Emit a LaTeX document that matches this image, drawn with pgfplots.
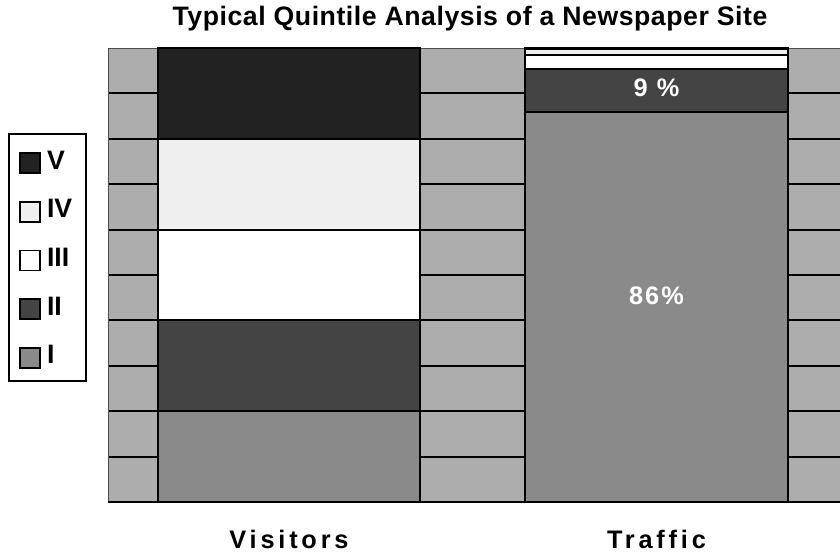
\documentclass[border=0pt]{standalone}
\usepackage{fontspec}
\setmainfont{Liberation Sans}
\usepackage{pgfplots}
\pgfplotsset{compat=1.18}
\definecolor{bgray}{HTML}{ADADAD}
\definecolor{qI}{HTML}{8A8A8A}
\definecolor{qII}{HTML}{444444}
\definecolor{qIII}{HTML}{FFFFFF}
\definecolor{qIV}{HTML}{EFEFEF}
\definecolor{qV}{HTML}{222222}
\begin{document}
\begin{tikzpicture}
\useasboundingbox (0,0) rectangle (630pt,416.25pt);
\fill[white] (0,0) rectangle (630pt,416.25pt);
\begin{axis}[
  at={(81pt,39.75pt)}, anchor=south west,
  scale only axis, width=549pt, height=340.5pt,
  ybar stacked, bar width=0.713,
  xmin=-0.4925, xmax=1.4993, ymin=0, ymax=100,
  axis background/.style={fill=bgray},
  axis line style={draw=gray!60!black, line width=0.6pt},
  ytick={10,20,...,90}, yticklabels={}, ymajorgrids,
  grid style={black, line width=1.4pt},
  ytick style={draw=none},
  xtick={0,1}, xticklabels={Visitors,Traffic},
  xtick style={draw=none},
  xticklabel style={font=\bfseries\fontsize{19}{19}\selectfont\addfontfeatures{LetterSpace=15}, anchor=base, yshift=-35.25pt},
  extra x ticks={-0.4925,1.4993}, extra x tick labels={},
  extra x tick style={tick pos=bottom, tick align=outside, major tick length=6pt, major tick style={black, line width=1.5pt, draw=black}},
  reverse legend,
  legend style={at={(-0.1366,0.812)}, anchor=north west, draw=black, line width=1.5pt,
    inner xsep=7.5pt, inner ysep=9pt, row sep=15.9pt,
    nodes={font=\bfseries\fontsize{20}{20}\selectfont, text height=15pt, text depth=0pt, inner xsep=3pt, inner ysep=2pt}},
  legend cell align=left,
  legend image code/.code={\path[draw=none,fill=none] (0pt,0pt) -- (18pt,0pt);\draw[#1, draw=black, line width=1.3pt] (0.65pt,-10.5pt) rectangle (15.5pt,4.5pt);},
  clip=false,
]
\addplot+[fill=qI, draw=black, line width=1.5pt] coordinates {(0,20) (1,86)};
\addplot+[fill=qII, draw=black, line width=1.5pt] coordinates {(0,20) (1,9.3)};
\addplot+[fill=qIII, draw=black, line width=1.5pt] coordinates {(0,20) (1,3.1)};
\addplot+[fill=qIV, draw=black, line width=1.5pt] coordinates {(0,20) (1,1.4)};
\addplot+[fill=qV, draw=black, line width=1.5pt] coordinates {(0,20) (1,0.2)};
\legend{I,II,III,IV,V}
\draw[black, line width=1.5pt] (axis cs:-0.4925,0) -- (axis cs:1.4993,0);
\coordinate (c86) at (axis cs:1,45.5);
\coordinate (c9) at (axis cs:1,91.2);
\end{axis}
\node[white, font=\bfseries\fontsize{19}{19}\selectfont\addfontfeatures{LetterSpace=8}] at (c86) {86\%};
\node[white, font=\bfseries\fontsize{19}{19}\selectfont\addfontfeatures{LetterSpace=8}] at (c9) {9 \%};
\node[font=\bfseries\fontsize{20}{20}\selectfont\addfontfeatures{LetterSpace=2}, anchor=base] at (352.5pt,396.75pt) {Typical Quintile Analysis of a Newspaper Site};
\end{tikzpicture}
\end{document}
